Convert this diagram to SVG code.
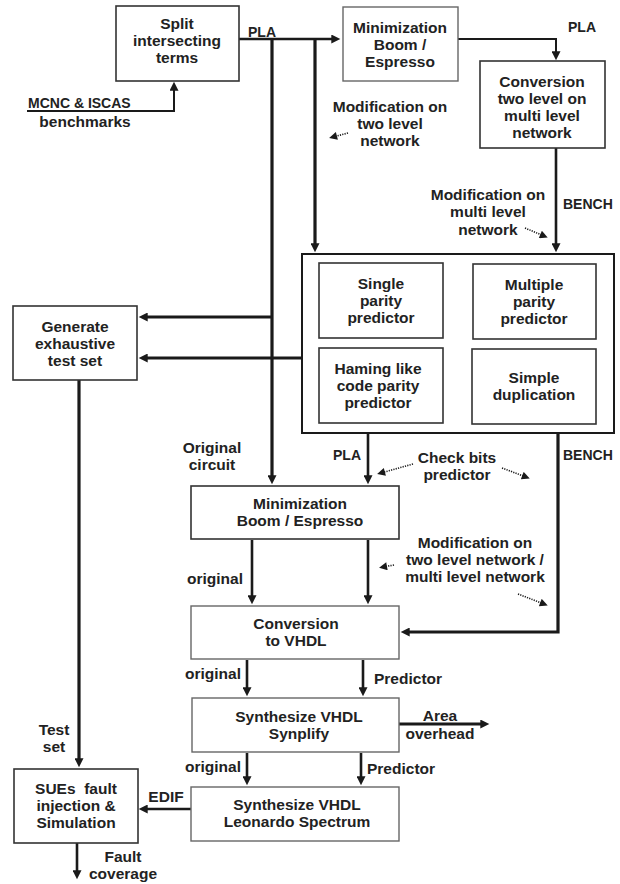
<svg xmlns="http://www.w3.org/2000/svg" width="620" height="884" viewBox="0 0 620 884">
<style>
text{font-family:"Liberation Sans",Arial,sans-serif;font-weight:bold;font-size:15.5px;fill:#222;text-anchor:middle}
.s{font-size:14px}
.l{text-anchor:start}
.box{fill:#fff;stroke:#333;stroke-width:1.6}
.lbox{fill:#fff;stroke:#666;stroke-width:1.4}
.c{fill:none;stroke:#1a1a1a;stroke-width:2.6}
.n{fill:none;stroke:#1a1a1a;stroke-width:2}
.t{fill:none;stroke:#1a1a1a;stroke-width:3.2}
.d{fill:none;stroke:#1a1a1a;stroke-width:1.6;stroke-dasharray:1.2 1.2}
</style>
<defs>
<marker id="ah" viewBox="0 0 10 10" refX="3" refY="5" markerWidth="11" markerHeight="9" markerUnits="userSpaceOnUse" orient="auto"><path d="M0,0 L10,5 L0,10 z" fill="#1a1a1a"/></marker>
<marker id="sa" viewBox="0 0 10 10" refX="5" refY="5" markerWidth="10" markerHeight="8" markerUnits="userSpaceOnUse" orient="auto"><path d="M0,0 L10,5 L0,10 z" fill="#1a1a1a"/></marker>
</defs>
<rect width="620" height="884" fill="#fff"/>
<g id="connectors">
<path class="n" d="M27,111 H174 V88" marker-end="url(#ah)"/>
<path class="c" d="M239,39 H334" marker-end="url(#ah)"/>
<path class="n" d="M458,39 H556 V54" marker-end="url(#ah)"/>
<path class="c" d="M556,148 V246" marker-end="url(#ah)"/>
<path class="t" d="M315,39 V246" marker-end="url(#ah)"/>
<path class="t" d="M272,39 V478" marker-end="url(#ah)"/>
<path class="t" d="M272,317 H145" marker-end="url(#ah)"/>
<path class="t" d="M302,358 H145" marker-end="url(#ah)"/>
<path class="c" d="M368,433 V478" marker-end="url(#ah)"/>
<path class="t" d="M558,433 V632 H407" marker-end="url(#ah)"/>
<path class="c" d="M252,540 V598" marker-end="url(#ah)"/>
<path class="c" d="M368,540 V598" marker-end="url(#ah)"/>
<path class="c" d="M247,660 V690" marker-end="url(#ah)"/>
<path class="c" d="M363,660 V690" marker-end="url(#ah)"/>
<path class="t" d="M399,724 H483" marker-end="url(#ah)"/>
<path class="c" d="M247,753 V779" marker-end="url(#ah)"/>
<path class="c" d="M361,753 V779" marker-end="url(#ah)"/>
<path class="c" d="M191,809 H145" marker-end="url(#ah)"/>
<path class="t" d="M79,380 V761" marker-end="url(#ah)"/>
<path class="c" d="M77,843 V873" marker-end="url(#ah)"/>
<path class="d" d="M348,133 L333,137" marker-end="url(#sa)"/>
<path class="d" d="M525,228 L544,236" marker-end="url(#sa)"/>
<path class="d" d="M413,464 L381,473" marker-end="url(#sa)"/>
<path class="d" d="M502,468 L526,477" marker-end="url(#sa)"/>
<path class="d" d="M394,565 L383,567" marker-end="url(#sa)"/>
<path class="d" d="M518,594 L544,604" marker-end="url(#sa)"/>
</g>
<g id="labels">
<text class="s l" x="248" y="37">PLA</text>
<text class="s l" x="568" y="32">PLA</text>
<text class="s l" x="28" y="108">MCNC &amp; ISCAS</text>
<text x="85" y="127">benchmarks</text>
<text x="390" y="112">Modification on</text>
<text x="390" y="129">two level</text>
<text x="390" y="146">network</text>
<text x="488" y="200">Modification on</text>
<text x="488" y="217">multi level</text>
<text x="488" y="235">network</text>
<text class="s l" x="563" y="209">BENCH</text>
<text class="s l" x="333" y="460">PLA</text>
<text class="s l" x="563" y="460">BENCH</text>
<text x="457" y="463">Check bits</text>
<text x="457" y="480">predictor</text>
<text x="212" y="453">Original</text>
<text x="212" y="470">circuit</text>
<text x="215" y="584">original</text>
<text x="475" y="548">Modification on</text>
<text x="475" y="565">two level network /</text>
<text x="475" y="582">multi level network</text>
<text x="213" y="679">original</text>
<text class="l" x="374" y="684">Predictor</text>
<text x="440" y="721">Area</text>
<text x="440" y="739">overhead</text>
<text x="213" y="772">original</text>
<text class="l" x="367" y="774">Predictor</text>
<text x="166" y="802">EDIF</text>
<text x="54" y="735">Test</text>
<text x="54" y="752">set</text>
<text x="123" y="862">Fault</text>
<text x="123" y="879">coverage</text>
</g>
<g id="split"><rect class="box" x="116" y="6" width="123" height="75"/><text x="177" y="29">Split</text><text x="177" y="46">intersecting</text><text x="177" y="63">terms</text></g>
<g id="min1"><rect class="lbox" x="343" y="7" width="115" height="74"/><text x="400" y="33">Minimization</text><text x="400" y="50">Boom /</text><text x="400" y="67">Espresso</text></g>
<g id="conv1"><rect class="box" x="480" y="61" width="125" height="87"/><text x="542" y="87">Conversion</text><text x="542" y="104">two level on</text><text x="542" y="121">multi level</text><text x="542" y="138">network</text></g>
<g id="predictors"><rect class="box" x="302" y="254" width="312" height="179" style="stroke:#1a1a1a;stroke-width:2"/>
<g id="single"><rect class="box" x="319" y="263" width="124" height="75"/><text x="381" y="289">Single</text><text x="381" y="306">parity</text><text x="381" y="323">predictor</text></g>
<g id="multiple"><rect class="box" x="473" y="264" width="123" height="75"/><text x="534" y="290">Multiple</text><text x="534" y="307">parity</text><text x="534" y="324">predictor</text></g>
<g id="haming"><rect class="box" x="319" y="348" width="124" height="75"/><text x="378" y="374">Haming like</text><text x="378" y="391">code parity</text><text x="378" y="408">predictor</text></g>
<g id="duplication"><rect class="box" x="472" y="349" width="124" height="75"/><text x="534" y="383">Simple</text><text x="534" y="400">duplication</text></g>
</g>
<g id="generate"><rect class="box" x="13" y="306" width="124" height="74"/><text x="75" y="332">Generate</text><text x="75" y="349">exhaustive</text><text x="75" y="366">test set</text></g>
<g id="min2"><rect class="box" x="191" y="486" width="208" height="53"/><text x="300" y="509">Minimization</text><text x="300" y="526">Boom / Espresso</text></g>
<g id="conv2"><rect class="lbox" x="191" y="606" width="208" height="53"/><text x="296" y="629">Conversion</text><text x="296" y="646">to VHDL</text></g>
<g id="synplify"><rect class="lbox" x="192" y="698" width="207" height="54"/><text x="299" y="722">Synthesize VHDL</text><text x="299" y="739">Synplify</text></g>
<g id="leonardo"><rect class="lbox" x="191" y="787" width="208" height="54"/><text x="297" y="810">Synthesize VHDL</text><text x="297" y="827">Leonardo Spectrum</text></g>
<g id="sues"><rect class="box" x="14" y="769" width="124" height="74"/><text x="76" y="794" xml:space="preserve">SUEs  fault</text><text x="76" y="811">injection &amp;</text><text x="76" y="828">Simulation</text></g>
</svg>
